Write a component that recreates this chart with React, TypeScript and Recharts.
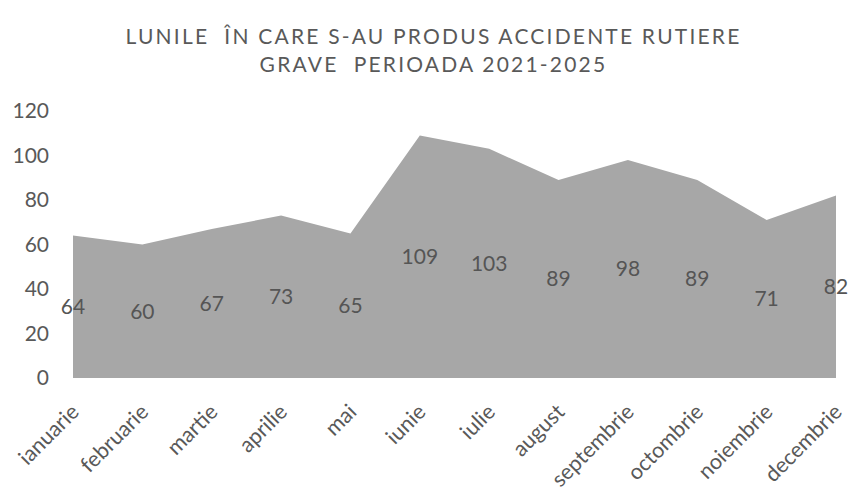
import { AreaChart, Area, XAxis, YAxis, LabelList } from "recharts";

const months = [
  "ianuarie",
  "februarie",
  "martie",
  "aprilie",
  "mai",
  "iunie",
  "iulie",
  "august",
  "septembrie",
  "octombrie",
  "noiembrie",
  "decembrie",
];
const accidents = [64, 60, 67, 73, 65, 109, 103, 89, 98, 89, 71, 82];
const yTicks = [0, 20, 40, 60, 80, 100, 120];

const data = months.map((month, i) => ({ month, value: accidents[i] }));

const FONT = "Lato, 'Open Sans', sans-serif";
const W = 851;
const H = 489;
const MARGIN = { top: 111, right: 15, left: 18, bottom: 0 };
const PLOT_H = 267;
const PLOT_BOTTOM = MARGIN.top + PLOT_H;

const MonthTick = (props: any) => {
  const { x, payload } = props;
  return (
    <g transform={`translate(${x + 2},${PLOT_BOTTOM + 30}) rotate(-45)`}>
      <text
        x={0}
        y={0}
        dy="0.35em"
        textAnchor="end"
        fill="#595959"
        fontSize={21.5}
        fontFamily={FONT}
      >
        {payload.value}
      </text>
    </g>
  );
};

// Excel placed the data labels at half height of the area
const MidLabel = (props: any) => {
  const { x, y, value } = props;
  return (
    <text
      x={x}
      y={(y + PLOT_BOTTOM) / 2}
      dy="0.35em"
      textAnchor="middle"
      fill="#555555"
      fontSize={21}
      fontFamily={FONT}
    >
      {value}
    </text>
  );
};

export default function App() {
  return (
    <div
      style={{
        position: "absolute",
        top: 0,
        left: 0,
        width: W,
        height: H,
        background: "#fff",
        overflow: "hidden",
      }}
    >
      <div
        style={{
          position: "absolute",
          top: 22,
          left: 16,
          width: W - 16,
          textAlign: "center",
          color: "#595959",
          fontFamily: FONT,
          fontSize: 21,
          lineHeight: "28px",
          letterSpacing: 2.2,
          whiteSpace: "pre",
        }}
      >
        {"LUNILE  ÎN CARE S-AU PRODUS ACCIDENTE RUTIERE"}
        <br />
        {"GRAVE  PERIOADA 2021-2025"}
      </div>
      <AreaChart width={W} height={H} data={data} margin={MARGIN}>
        <XAxis
          dataKey="month"
          axisLine={false}
          tickLine={false}
          interval={0}
          height={H - PLOT_BOTTOM}
          tick={<MonthTick />}
        />
        <YAxis
          domain={[0, 120]}
          ticks={yTicks}
          axisLine={false}
          tickLine={false}
          tickMargin={18}
          width={55}
          tick={{ fill: "#595959", fontSize: 21, fontFamily: FONT }}
        />
        <Area
          type="linear"
          dataKey="value"
          stroke="none"
          fill="#a7a7a7"
          fillOpacity={1}
          isAnimationActive={false}
        >
          <LabelList dataKey="value" content={<MidLabel />} />
        </Area>
      </AreaChart>
    </div>
  );
}
